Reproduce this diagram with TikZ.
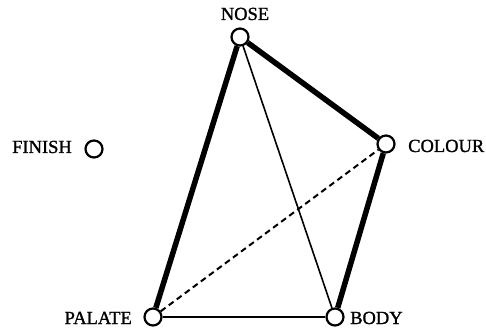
\documentclass[tikz,border=0pt]{standalone}
\usepackage{fontspec}
\setmainfont[FakeBold=1.2]{Liberation Serif}
\begin{document}
\begin{tikzpicture}[x=1pt,y=1pt,
  vtx/.style={circle,draw=black,fill=white,line width=2.2pt,minimum size=17pt,inner sep=0pt},
  lbl/.style={font=\fontsize{18.5}{20}\selectfont,inner sep=0pt},
  strong/.style={line width=5.5pt},
  weak/.style={line width=1.6pt},
  dashline/.style={line width=2pt,dash pattern=on 6pt off 4pt}]
\useasboundingbox (0,0) rectangle (486,329);
\node[vtx] (nose) at (240,292) {};
\node[vtx] (colour) at (386,185) {};
\node[vtx] (finish) at (94,180) {};
\node[vtx] (palate) at (153,12) {};
\node[vtx] (body) at (335,12) {};
\draw[strong] (nose) -- (colour);
\draw[strong] (nose) -- (palate);
\draw[strong] (colour) -- (body);
\draw[weak] (nose) -- (body);
\draw[weak] (palate) -- (body);
\draw[dashline] (palate) -- (colour);
\node[lbl,anchor=base] (tnose) at (245,309) {NOSE};
\node[lbl,anchor=base west] (tcolour) at (408,177) {COLOUR};
\node[lbl,anchor=base west] (tfinish) at (12,176) {FINISH};
\node[lbl,anchor=base east] (tpalate) at (132,5) {PALATE};
\node[lbl,anchor=base west] (tbody) at (350,5) {BODY};
\end{tikzpicture}
\end{document}
